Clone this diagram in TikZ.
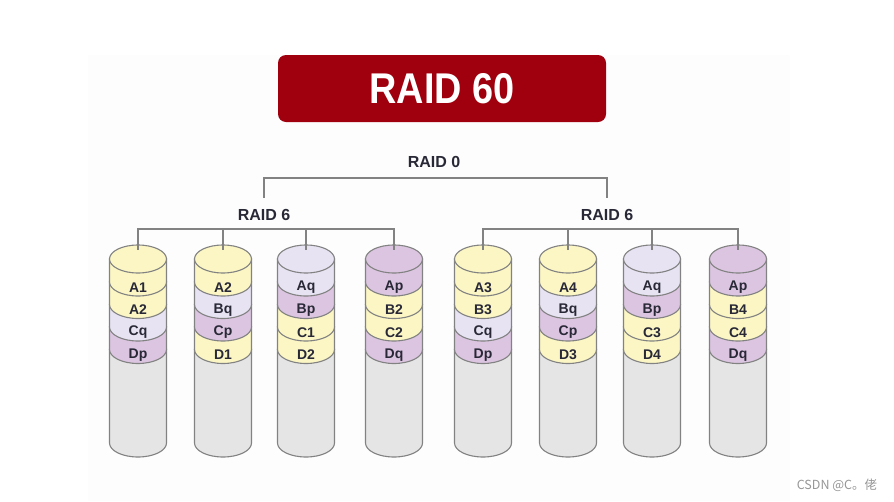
\documentclass[tikz,border=0pt]{standalone}
\usepackage{fontspec}
\setmainfont{Liberation Sans}
\newfontfamily\titlefont[FakeStretch=0.88]{Liberation Sans}
\newfontfamily\cjkfont{Noto Sans CJK SC}
\usepackage{tikz}
\usetikzlibrary{positioning}
\definecolor{rougeTitre}{RGB}{160, 0, 14}
\definecolor{fondPage}{RGB}{253, 253, 253}
\definecolor{traitGris}{RGB}{130, 130, 130}
\definecolor{texteFonce}{RGB}{40, 40, 55}
\definecolor{jauneData}{RGB}{251, 246, 196}
\definecolor{lilasQ}{RGB}{231, 227, 243}
\definecolor{violetP}{RGB}{220, 197, 224}
\definecolor{grisDisque}{RGB}{229, 229, 229}
\definecolor{grisMarque}{RGB}{150, 150, 150}

\begin{document}
\begin{tikzpicture}[x=1pt, y=-1pt,
  titre/.style={rectangle, rounded corners=8pt, fill=rougeTitre,
    minimum width=328pt, minimum height=67pt,
    text=white, font=\titlefont\fontsize{43}{43}\selectfont\bfseries},
  niveau/.style={font=\fontsize{16}{16}\selectfont\bfseries, text=texteFonce},
  seg/.style={font=\fontsize{14}{14}\selectfont\bfseries, text=texteFonce,
    inner sep=0pt},
  disque/.style={draw=traitGris, line width=1.1pt},
  lien/.style={draw=traitGris, line width=1.2pt},
]
\useasboundingbox (0,0) rectangle (894,501);
\fill[fondPage] (88,55) rectangle (790,501);

\node[titre] (titre) at (442,88.5) {RAID 60};
\node[niveau] (raid0)  at (434,162) {RAID 0};
\node[niveau] (raid6g) at (264,215) {RAID 6};
\node[niveau] (raid6d) at (607,215) {RAID 6};

% disques : fond gris, puis les bandes de bas en haut, puis le dessus
\foreach \cx/\ca/\la/\cb/\lb/\cc/\lc/\cd/\ld [count=\i] in {
  138/jauneData/A1/jauneData/A2/lilasQ/Cq/violetP/Dp,
  223/jauneData/A2/lilasQ/Bq/violetP/Cp/jauneData/D1,
  306/lilasQ/Aq/violetP/Bp/jauneData/C1/jauneData/D2,
  394/violetP/Ap/jauneData/B2/jauneData/C2/violetP/Dq,
  483/jauneData/A3/jauneData/B3/lilasQ/Cq/violetP/Dp,
  568/jauneData/A4/lilasQ/Bq/violetP/Cp/jauneData/D3,
  652/lilasQ/Aq/violetP/Bp/jauneData/C3/jauneData/D4,
  738/violetP/Ap/jauneData/B4/jauneData/C4/violetP/Dq}
{
  \filldraw[disque, fill=grisDisque] (\cx-28.5,349.5) -- (\cx-28.5,443)
    arc[start angle=180, end angle=360, x radius=28.5pt, y radius=14pt]
    -- (\cx+28.5,349.5) -- cycle;
  \filldraw[disque, fill=\cd] (\cx-28.5,327) -- (\cx-28.5,349.5)
    arc[start angle=180, end angle=360, x radius=28.5pt, y radius=14pt]
    -- (\cx+28.5,327) -- cycle;
  \filldraw[disque, fill=\cc] (\cx-28.5,304.5) -- (\cx-28.5,327)
    arc[start angle=180, end angle=360, x radius=28.5pt, y radius=14pt]
    -- (\cx+28.5,304.5) -- cycle;
  \filldraw[disque, fill=\cb] (\cx-28.5,282) -- (\cx-28.5,304.5)
    arc[start angle=180, end angle=360, x radius=28.5pt, y radius=14pt]
    -- (\cx+28.5,282) -- cycle;
  \filldraw[disque, fill=\ca] (\cx-28.5,259) -- (\cx-28.5,282)
    arc[start angle=180, end angle=360, x radius=28.5pt, y radius=14pt]
    -- (\cx+28.5,259) -- cycle;
  \filldraw[disque, fill=\ca] (\cx,259) ellipse[x radius=28.5pt, y radius=14pt];
  \node[seg] (d\i-1) at (\cx,287.5) {\la};
  \node[seg] (d\i-2) at (\cx,310)   {\lb};
  \node[seg] (d\i-3) at (\cx,332.5) {\lc};
  \node[seg] (d\i-4) at (\cx,355)   {\ld};
  \coordinate (haut\i) at (\cx,250);
}

% liaisons RAID 0 / RAID 6
\coordinate (r0g) at (264,198);
\coordinate (r0d) at (607,198);
\draw[lien] (r0g) -- ++(0,-20) -| (r0d);
\draw[lien] (haut1) -- ++(0,-21) -| (haut4);
\draw[lien] (haut2) -- ++(0,-21);
\draw[lien] (haut3) -- ++(0,-21);
\draw[lien] (haut5) -- ++(0,-21) -| (haut8);
\draw[lien] (haut6) -- ++(0,-21);
\draw[lien] (haut7) -- ++(0,-21);

\node[font=\cjkfont\fontsize{12.5}{12.5}\selectfont, text=grisMarque]
  (marque) at (837,485) {CSDN @C。佬};
\end{tikzpicture}
\end{document}
